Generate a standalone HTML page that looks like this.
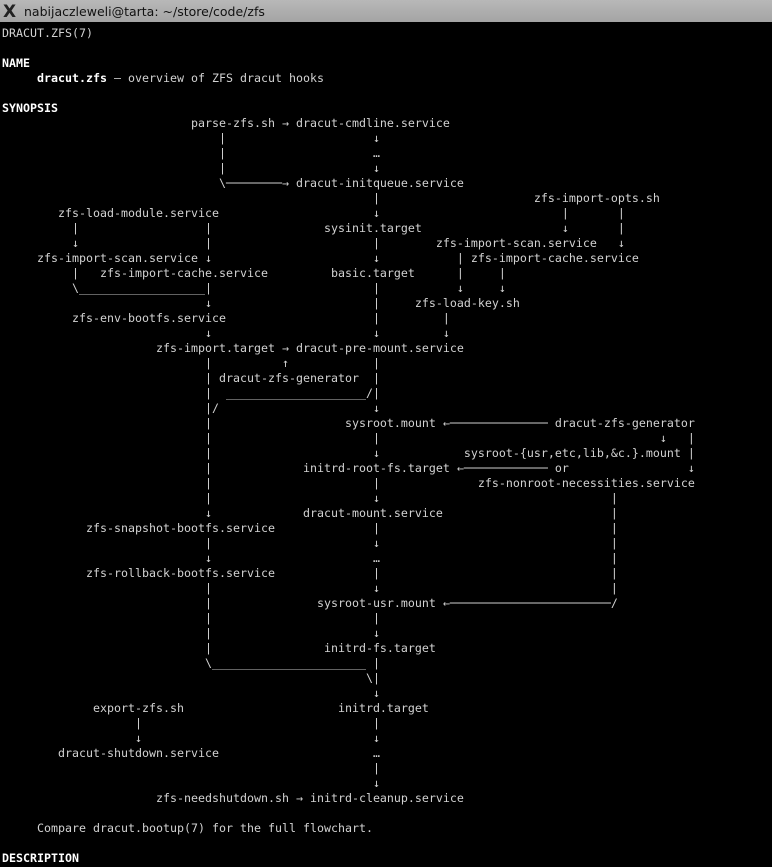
<!DOCTYPE html>
<html><head><meta charset="utf-8"><style>
html,body{margin:0;padding:0;background:#000;width:772px;height:867px;overflow:hidden}
#bar{position:absolute;left:0;top:0;width:772px;height:22px;background:linear-gradient(#b8b8b8,#a4a4a4);}
#bar span{position:absolute;left:24px;top:4px;font:12.5px "DejaVu Sans","Liberation Sans",sans-serif;color:#111}
#ico{position:absolute;left:3px;top:2px;font:bold 17px "DejaVu Sans",sans-serif;color:#222}
pre{position:absolute;left:2px;top:25.5px;margin:0;font-family:"DejaVu Sans Mono","Liberation Mono",monospace;font-size:11.63px;line-height:15px;color:#d2d2d2;white-space:pre}
b{color:#fff}
</style></head><body>
<div id="bar"><div id="ico">X</div><span>nabijaczleweli@tarta: ~/store/code/zfs</span></div>
<pre>DRACUT.ZFS(7)

<b>NAME</b>
     <b>dracut.zfs</b> — overview of ZFS dracut hooks

<b>SYNOPSIS</b>
                           parse-zfs.sh → dracut-cmdline.service
                               |                     ↓
                               |                     …
                               |                     ↓
                               \────────→ dracut-initqueue.service
                                                     |                      zfs-import-opts.sh
        zfs-load-module.service                      ↓                          |       |
          |                  |                sysinit.target                    ↓       |
          ↓                  |                       |        zfs-import-scan.service   ↓
     zfs-import-scan.service ↓                       ↓           | zfs-import-cache.service
          |   zfs-import-cache.service         basic.target      |     |
          \__________________|                       |           ↓     ↓
                             ↓                       |     zfs-load-key.sh
          zfs-env-bootfs.service                     |         |
                             ↓                       ↓         ↓
                      zfs-import.target → dracut-pre-mount.service
                             |          ↑            |
                             | dracut-zfs-generator  |
                             |  ____________________/|
                             |/                      ↓
                             |                   sysroot.mount ←────────────── dracut-zfs-generator
                             |                       |                                        ↓   |
                             |                       ↓            sysroot-{usr,etc,lib,&amp;c.}.mount |
                             |             initrd-root-fs.target ←──────────── or                 ↓
                             |                       |              zfs-nonroot-necessities.service
                             |                       ↓                                 |
                             ↓             dracut-mount.service                        |
            zfs-snapshot-bootfs.service              |                                 |
                             |                       ↓                                 |
                             ↓                       …                                 |
            zfs-rollback-bootfs.service              |                                 |
                             |                       ↓                                 |
                             |               sysroot-usr.mount ←───────────────────────/
                             |                       |
                             |                       ↓
                             |                initrd-fs.target
                             \______________________ |
                                                    \|
                                                     ↓
             export-zfs.sh                      initrd.target
                   |                                 |
                   ↓                                 ↓
        dracut-shutdown.service                      …
                                                     |
                                                     ↓
                      zfs-needshutdown.sh → initrd-cleanup.service

     Compare dracut.bootup(7) for the full flowchart.

<b>DESCRIPTION</b></pre>
</body></html>
